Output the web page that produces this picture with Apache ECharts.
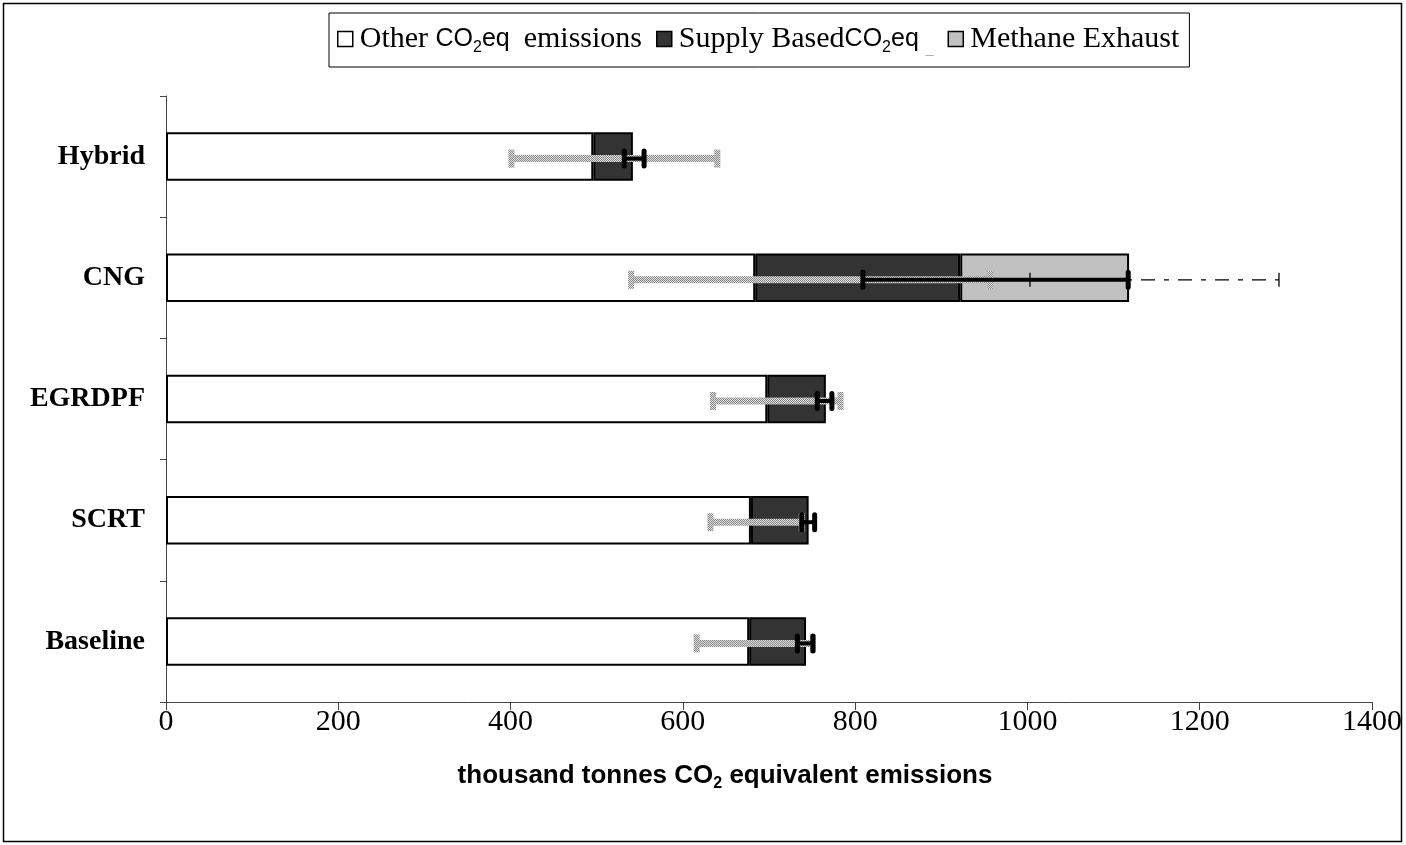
<!DOCTYPE html>
<html>
<head>
<meta charset="utf-8">
<script src="https://cdn.jsdelivr.net/npm/echarts@6/dist/echarts.min.js"></script>
<style>
html,body{margin:0;padding:0;background:#fff;}
#chart{width:1406px;height:845px;}
</style>
</head>
<body>
<div id="chart"></div>
<script>
// ---- data ----
const categories = ['Baseline', 'SCRT', 'EGRDPF', 'CNG', 'Hybrid'];
const otherCO2 = [677, 679, 698, 684, 496];
const supplyCO2 = [66, 67, 68, 238, 46];
const methaneExhaust = [null, null, null, 196, null];
const grayErrLow = [616, 632, 635, 540, 401];
const grayErrHigh = [751, 738, 783, 957, 640];
const blackErrLow = [733, 738, 756, 809, 532];
const blackErrHigh = [751, 753, 773, 1117, 555];
const dashErrLow = [null, null, null, 1003, null];
const dashErrHigh = [null, null, null, 1292, null];
const xTickMin = 0, xTickMax = 1400, xTickStep = 200;
const seriesNames = ['Other CO2eq emissions', 'Supply BasedCO2eq', 'Methane Exhaust'];

// ---- helpers ----
function errData(lo, hi) {
  const out = [];
  lo.forEach((v, i) => { if (v != null && hi[i] != null) out.push([v, hi[i], i]); });
  return out;
}
function toSeries(arr) { return arr.map(v => v == null ? '-' : v); }

const pc = document.createElement('canvas');
pc.width = 2; pc.height = 2;
const pctx = pc.getContext('2d');
pctx.fillStyle = '#dcdcdc'; pctx.fillRect(0, 0, 2, 2);
pctx.fillStyle = '#8a8a8a'; pctx.fillRect(0, 0, 1, 1); pctx.fillRect(1, 1, 1, 1);
const stipple = { image: pc, repeat: 'repeat' };

const YOFF = 2;
function grayRender(params, api) {
  const a = api.coord([api.value(0), api.value(2)]);
  const b = api.coord([api.value(1), api.value(2)]);
  const cy = a[1] + YOFF;
  return { type: 'group', children: [
    { type: 'rect', shape: { x: a[0], y: cy - 3.5, width: b[0] - a[0], height: 7 }, style: { fill: stipple } },
    { type: 'rect', shape: { x: a[0] - 3, y: cy - 9, width: 6, height: 18 }, style: { fill: stipple } },
    { type: 'rect', shape: { x: b[0] - 3, y: cy - 9, width: 6, height: 18 }, style: { fill: stipple } }
  ]};
}
function blackRender(params, api) {
  const a = api.coord([api.value(0), api.value(2)]);
  const b = api.coord([api.value(1), api.value(2)]);
  const cy = a[1] + YOFF;
  const st = { stroke: '#000', lineWidth: 5, lineCap: 'round' };
  return { type: 'group', children: [
    { type: 'line', shape: { x1: a[0], y1: cy, x2: b[0], y2: cy }, style: { stroke: '#000', lineWidth: 4 } },
    { type: 'line', shape: { x1: a[0], y1: cy - 7.5, x2: a[0], y2: cy + 7.5 }, style: st },
    { type: 'line', shape: { x1: b[0], y1: cy - 7.5, x2: b[0], y2: cy + 7.5 }, style: st }
  ]};
}
function dashRender(params, api) {
  const a = api.coord([api.value(0), api.value(2)]);
  const b = api.coord([api.value(1), api.value(2)]);
  const cy = a[1] + YOFF;
  return { type: 'group', children: [
    { type: 'line', shape: { x1: a[0], y1: cy, x2: b[0], y2: cy }, style: { stroke: '#000', lineWidth: 1.3, lineDash: [14, 9, 5, 9] } },
    { type: 'line', shape: { x1: a[0], y1: cy - 7, x2: a[0], y2: cy + 7 }, style: { stroke: '#000', lineWidth: 1.3 } },
    { type: 'line', shape: { x1: b[0], y1: cy - 7, x2: b[0], y2: cy + 7 }, style: { stroke: '#000', lineWidth: 1.3 } }
  ]};
}

const barCommon = { type: 'bar', stack: 'total', barWidth: '40%' };

const legendRich = {
  s: { fontFamily: 'Liberation Serif', fontSize: 30, color: '#000', lineHeight: 34 },
  a: { fontFamily: 'Liberation Sans', fontSize: 25, color: '#000', lineHeight: 34 },
  sub: { fontFamily: 'Liberation Sans', fontSize: 16, color: '#000', verticalAlign: 'bottom', lineHeight: 18 },
  u: { fontFamily: 'Liberation Sans', fontSize: 14, color: '#aaa', verticalAlign: 'bottom', lineHeight: 14 }
};
const legendLabels = {
  'Other CO2eq emissions': '{s|Other }{a|CO}{sub|2}{a|eq  }{s|emissions}',
  'Supply BasedCO2eq': '{s|Supply Based}{a|CO}{sub|2}{a|eq }{u|_}',
  'Methane Exhaust': '{s|Methane Exhaust}'
};

const chart = echarts.init(document.getElementById('chart'), null, { renderer: 'canvas' });
chart.setOption({
  animation: false,
  backgroundColor: '#fff',
  grid: { left: 166, right: 34, top: 96, bottom: 143 },
  legend: {
    left: 329, top: 13,
    padding: [11, 10, 11, 8],
    borderColor: '#000', borderWidth: 1,
    itemGap: 14, itemWidth: 15, itemHeight: 15,
    icon: 'rect',
    data: [
      { name: seriesNames[0], itemStyle: { color: '#fff', borderColor: '#000', borderWidth: 1.5 } },
      { name: seriesNames[1], itemStyle: { color: '#333', borderColor: '#000', borderWidth: 1.5 } },
      { name: seriesNames[2], itemStyle: { color: '#c0c0c0', borderColor: '#000', borderWidth: 1.5 } }
    ],
    formatter: n => legendLabels[n],
    textStyle: { rich: legendRich, padding: [0, 0, 0, 2] }
  },
  xAxis: {
    type: 'value', min: xTickMin, max: xTickMax, interval: xTickStep,
    axisLine: { show: true, lineStyle: { color: '#444', width: 1 } },
    axisTick: { show: true, length: 8, lineStyle: { color: '#444' } },
    splitLine: { show: false },
    axisLabel: { fontFamily: 'Liberation Serif', fontSize: 30, color: '#000', margin: 5, formatter: v => String(v) }
  },
  yAxis: {
    type: 'category', data: categories,
    axisLine: { show: true, lineStyle: { color: '#444', width: 1 } },
    axisTick: { show: true, length: 6, lineStyle: { color: '#444' } },
    axisLabel: { fontFamily: 'Liberation Serif', fontWeight: 'bold', fontSize: 28, color: '#000', margin: 21 }
  },
  graphic: [
    { type: 'rect', shape: { x: 3.5, y: 3.5, width: 1398, height: 838 }, style: { fill: 'none', stroke: '#000', lineWidth: 1.5 }, silent: true },
    { type: 'text', x: 725, y: 776,
      style: { text: '{t|thousand tonnes CO}{b|2}{t| equivalent emissions}', align: 'center', verticalAlign: 'middle',
        rich: { t: { fontFamily: 'Liberation Sans', fontWeight: 'bold', fontSize: 26, fill: '#000', lineHeight: 32 },
                b: { fontFamily: 'Liberation Sans', fontWeight: 'bold', fontSize: 16, fill: '#000', verticalAlign: 'bottom', lineHeight: 17 } } } }
  ],
  series: [
    Object.assign({}, barCommon, { name: seriesNames[0], data: toSeries(otherCO2), itemStyle: { color: '#fff', borderColor: '#000', borderWidth: 2 } }),
    Object.assign({}, barCommon, { name: seriesNames[1], data: toSeries(supplyCO2), itemStyle: { color: '#333', borderColor: '#000', borderWidth: 2 } }),
    Object.assign({}, barCommon, { name: seriesNames[2], data: toSeries(methaneExhaust), itemStyle: { color: '#c0c0c0', borderColor: '#000', borderWidth: 2 } }),
    { type: 'custom', name: 'grayErr', renderItem: grayRender, data: errData(grayErrLow, grayErrHigh), encode: { x: [0, 1], y: 2 }, z: 3, silent: true },
    { type: 'custom', name: 'dashErr', renderItem: dashRender, data: errData(dashErrLow, dashErrHigh), encode: { x: [0, 1], y: 2 }, z: 4, silent: true },
    { type: 'custom', name: 'blackErr', renderItem: blackRender, data: errData(blackErrLow, blackErrHigh), encode: { x: [0, 1], y: 2 }, z: 5, silent: true }
  ]
});
</script>
</body>
</html>
